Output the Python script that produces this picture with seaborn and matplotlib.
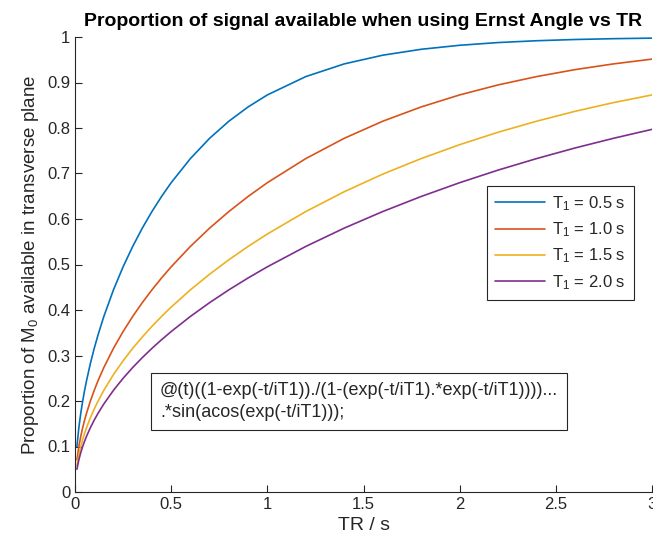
import numpy as np
import pandas as pd
import matplotlib
matplotlib.use("Agg")
import matplotlib.pyplot as plt
import seaborn as sns

tr = [0.01, 0.02, 0.03, 0.04, 0.05, 0.06, 0.08, 0.1, 0.12, 0.15, 0.2, 0.25, 0.3, 0.35,
      0.4, 0.45, 0.5, 0.6, 0.7, 0.8, 0.9, 1.0, 1.2, 1.4, 1.6, 1.8, 2.0, 2.2, 2.4, 2.6,
      2.8, 3.0]

t1_05 = [0.1000, 0.1414, 0.1732, 0.1999, 0.2235, 0.2448, 0.2825, 0.3157, 0.3456, 0.3859,
         0.4443, 0.4949, 0.5397, 0.5800, 0.6164, 0.6495, 0.6798, 0.7328, 0.7774, 0.8149,
         0.8463, 0.8727, 0.9130, 0.9409, 0.9600, 0.9730, 0.9818, 0.9878, 0.9918, 0.9945,
         0.9963, 0.9975]
t1_10 = [0.0707, 0.1000, 0.1225, 0.1414, 0.1581, 0.1732, 0.1999, 0.2235, 0.2448, 0.2736,
         0.3157, 0.3526, 0.3859, 0.4162, 0.4443, 0.4704, 0.4949, 0.5397, 0.5800, 0.6164,
         0.6495, 0.6798, 0.7328, 0.7774, 0.8149, 0.8463, 0.8727, 0.8947, 0.9130, 0.9283,
         0.9409, 0.9514]
t1_15 = [0.0577, 0.0816, 0.1000, 0.1155, 0.1291, 0.1414, 0.1633, 0.1825, 0.1999, 0.2235,
         0.2580, 0.2883, 0.3157, 0.3408, 0.3641, 0.3859, 0.4064, 0.4443, 0.4787, 0.5104,
         0.5397, 0.5670, 0.6164, 0.6600, 0.6986, 0.7328, 0.7634, 0.7907, 0.8149, 0.8367,
         0.8558, 0.8727]
t1_20 = [0.0500, 0.0707, 0.0866, 0.1000, 0.1118, 0.1225, 0.1414, 0.1581, 0.1732, 0.1936,
         0.2235, 0.2498, 0.2736, 0.2954, 0.3157, 0.3347, 0.3526, 0.3859, 0.4162, 0.4443,
         0.4704, 0.4949, 0.5397, 0.5800, 0.6164, 0.6495, 0.6798, 0.7075, 0.7328, 0.7561,
         0.7774, 0.7970]

labels = ["T$_1$ = 0.5 s", "T$_1$ = 1.0 s", "T$_1$ = 1.5 s", "T$_1$ = 2.0 s"]
series = [t1_05, t1_10, t1_15, t1_20]
colors = ["#0072BD", "#D95319", "#EDB120", "#7E2F8E"]

rows = []
for lab, vals in zip(labels, series):
    for t, v in zip(tr, vals):
        rows.append({"TR": t, "S": v, "T1": lab})
df = pd.DataFrame(rows)

sns.set_style("ticks")
plt.rcParams["font.family"] = ["Liberation Sans", "DejaVu Sans"]
plt.rcParams["mathtext.fontset"] = "custom"
plt.rcParams["mathtext.rm"] = "Liberation Sans"
plt.rcParams["mathtext.it"] = "Liberation Sans"

fig = plt.figure(figsize=(6.53, 5.43), dpi=100)
ax = fig.add_axes([75 / 653, 1 - 492 / 543, 577 / 653, 455 / 543])

sns.lineplot(data=df, x="TR", y="S", hue="T1", palette=colors, linewidth=1.2, ax=ax,
             legend=True)

ax.set_xlim(0, 3)
ax.set_ylim(0, 1)
ax.set_xticks([0, 0.5, 1, 1.5, 2, 2.5, 3])
ax.set_xticklabels(["0", "0.5", "1", "1.5", "2", "2.5", "3"])
ax.set_yticks(np.arange(0, 1.01, 0.1))
ax.set_yticklabels(["0", "0.1", "0.2", "0.3", "0.4", "0.5", "0.6", "0.7", "0.8", "0.9", "1"])
ax.tick_params(direction="in", length=5, width=0.8, labelsize=12, colors="#262626",
               labelcolor="#262626")
for s in ["top", "right"]:
    ax.spines[s].set_visible(False)
for s in ["left", "bottom"]:
    ax.spines[s].set_color("#262626")
    ax.spines[s].set_linewidth(0.8)

ax.set_xlabel("TR / s", fontsize=14, color="#262626")
ax.set_ylabel("Proportion of M$_0$ available in transverse plane", fontsize=13.5, color="#262626")
ax.set_title("Proportion of signal available when using Ernst Angle vs TR",
             fontsize=14, fontweight="bold", color="black", pad=8)

leg = ax.legend(loc="upper left", bbox_to_anchor=((487 - 75) / 577, (492 - 186) / 455),
                frameon=True, fancybox=False, fontsize=12, handlelength=3.0,
                borderpad=0.5, labelspacing=0.45, handletextpad=0.4, borderaxespad=0)
leg.get_frame().set_edgecolor("#262626")
leg.get_frame().set_linewidth(0.8)
leg.get_frame().set_alpha(1)

ax.text((160 - 75) / 577, (492 - 382) / 455,
        "@(t)((1-exp(-t/iT1))./(1-(exp(-t/iT1).*exp(-t/iT1))))...\n.*sin(acos(exp(-t/iT1)));",
        transform=ax.transAxes, fontsize=13, va="top", ha="left", linespacing=1.4,
        bbox=dict(boxstyle="square,pad=0.5", facecolor="white", edgecolor="#262626",
                  linewidth=0.8))

fig.savefig("out.png", dpi=100)
